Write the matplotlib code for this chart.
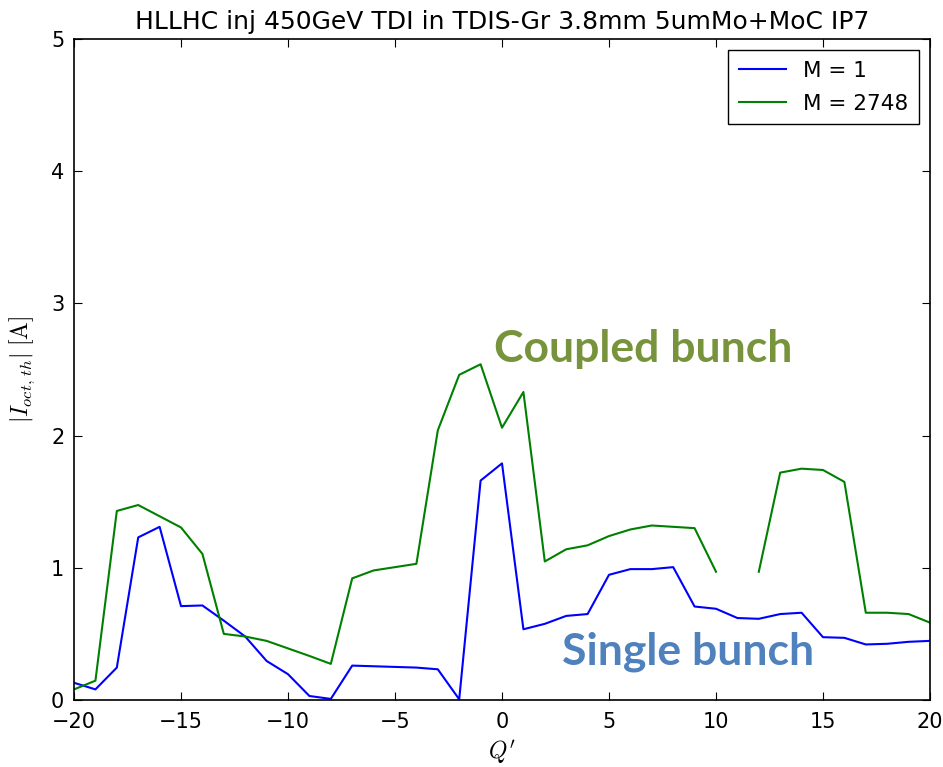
import numpy as np
import matplotlib
matplotlib.use("Agg")
import matplotlib.pyplot as plt

plt.rcParams['font.family'] = ['DejaVu Sans']
plt.rcParams['mathtext.fontset'] = 'cm'

# chromaticity scan
q_prime = np.arange(-20, 21)

# single bunch, M = 1
i_oct_m1 = [0.13, 0.08, 0.245, 1.23, 1.31, 0.71, 0.715, 0.60, 0.48, 0.295, 0.195,
            0.03, 0.008, 0.26, 0.255, 0.25, 0.245, 0.232, 0.005, 1.66, 1.79,
            0.535, 0.576, 0.636, 0.65, 0.947, 0.99, 0.99, 1.005, 0.707, 0.69,
            0.62, 0.614, 0.65, 0.66, 0.475, 0.47, 0.42, 0.425, 0.44, 0.447]

# coupled bunch, M = 2748 (no point at Q' = 11)
i_oct_m2748 = [0.08, 0.146, 1.43, 1.475, 1.39, 1.305, 1.105, 0.50, 0.48, 0.447, 0.39,
               0.333, 0.273, 0.92, 0.98, 1.005, 1.03, 2.04, 2.46, 2.54, 2.06,
               2.33, 1.048, 1.14, 1.17, 1.24, 1.29, 1.32, 1.31, 1.30, 0.97,
               np.nan, 0.97, 1.72, 1.75, 1.74, 1.65, 0.66, 0.66, 0.65, 0.585]

fig = plt.figure(figsize=(9.43, 7.67), dpi=100)
ax = fig.add_axes([0.0785, 0.0874, 0.9077, 0.8616])

ax.plot(q_prime, i_oct_m1, color='b', linewidth=1.5, label='M = 1')
ax.plot(q_prime, i_oct_m2748, color='g', linewidth=1.5, label='M = 2748')

ax.set_xlim(-20, 20)
ax.set_ylim(0, 5)
ax.set_xticks(np.arange(-20, 21, 5))
ax.set_yticks(np.arange(0, 6, 1))
ax.tick_params(direction='in', top=True, right=True, length=6, labelsize=15)
ax.tick_params(axis='x', pad=9)
ax.tick_params(axis='y', pad=7)
for sp in ax.spines.values():
    sp.set_linewidth(1.2)

ax.set_title('HLLHC inj 450GeV TDI in TDIS-Gr 3.8mm 5umMo+MoC IP7', fontsize=18, pad=7)
ax.set_xlabel(r"$Q'$", fontsize=17)
ax.set_ylabel(r'$|I_{oct,\,th}|\;[\mathrm{A}]$', fontsize=17)
ax.yaxis.set_label_coords(-0.043, 0.5)

leg = ax.legend(loc='upper right', fontsize=15.5, fancybox=False, framealpha=1,
                edgecolor='black', handlelength=2.2, borderpad=0.5, labelspacing=0.6)
leg.get_frame().set_linewidth(1.0)

ax.text(6.6, 2.56, 'Coupled bunch', color='#77933C', fontsize=32, fontweight='bold',
        family='Lato', ha='center', va='baseline')
ax.text(8.7, 0.265, 'Single bunch', color='#4F81BD', fontsize=32, fontweight='bold',
        family='Lato', ha='center', va='baseline')

fig.savefig('out.png', dpi=100)
